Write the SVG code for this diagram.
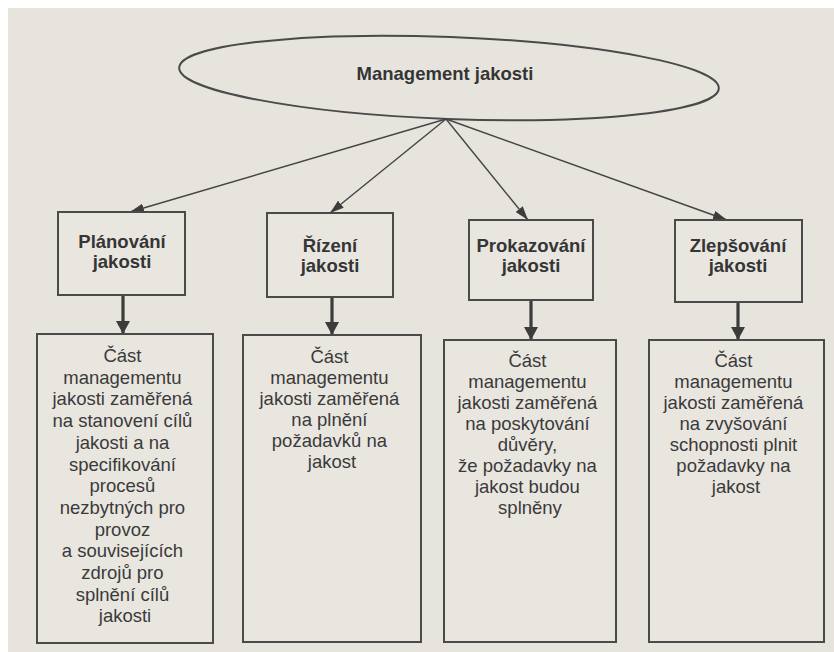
<svg xmlns="http://www.w3.org/2000/svg" width="834" height="652" viewBox="0 0 834 652">
  <defs>
    <marker id="thin" viewBox="0 0 14 9" refX="14" refY="4.5" markerWidth="14" markerHeight="9" markerUnits="userSpaceOnUse" orient="auto">
      <path d="M0,0 L14,4.5 L0,9 z" fill="#3c3c3c"/>
    </marker>
    <marker id="thick" viewBox="0 0 13 14" refX="13" refY="7" markerWidth="13" markerHeight="14" markerUnits="userSpaceOnUse" orient="auto">
      <path d="M0,0 L13,7 L0,14 z" fill="#3c3c3c"/>
    </marker>
    <style>
      .box { fill: #e9e6e0; stroke: #4a4a4a; stroke-width: 2; }
      .title { font-family: "Liberation Sans", Arial, sans-serif; font-weight: bold; font-size: 18.5px; fill: #353535; text-anchor: middle; }
      .desc { font-family: "Liberation Sans", Arial, sans-serif; font-size: 18.5px; fill: #3a3a3a; text-anchor: middle; }
      .link { stroke: #444; stroke-width: 1.4; fill: none; }
      .down { stroke: #3c3c3c; stroke-width: 3.2; fill: none; }
    </style>
  </defs>

  <!-- page -->
  <rect x="0" y="0" width="834" height="652" fill="#ffffff"/>
  <rect x="8" y="8" width="826" height="644" fill="#e7e4de"/>

  <!-- root ellipse -->
  <g id="management">
    <ellipse cx="449" cy="78" rx="270" ry="41" transform="rotate(2.2 449 78)" fill="none" stroke="#4a4a4a" stroke-width="2"/>
    <text class="title" x="445" y="80">Management jakosti</text>
  </g>

  <!-- connectors -->
  <g id="connectors">
    <line class="link" x1="446" y1="119" x2="130" y2="212" marker-end="url(#thin)"/>
    <line class="link" x1="446" y1="119" x2="330" y2="213" marker-end="url(#thin)"/>
    <line class="link" x1="446" y1="119" x2="528" y2="220" marker-end="url(#thin)"/>
    <line class="link" x1="446" y1="119" x2="727" y2="220" marker-end="url(#thin)"/>
    <line class="down" x1="123" y1="295" x2="123" y2="334" marker-end="url(#thick)"/>
    <line class="down" x1="332" y1="297" x2="332" y2="335" marker-end="url(#thick)"/>
    <line class="down" x1="531" y1="300" x2="531" y2="340" marker-end="url(#thick)"/>
    <line class="down" x1="738" y1="302" x2="738" y2="340" marker-end="url(#thick)"/>
  </g>

  <!-- process boxes -->
  <g id="planovani">
    <rect class="box" x="58" y="212" width="127" height="83"/>
    <text class="title" x="122" y="248">Plánování</text>
    <text class="title" x="122" y="268">jakosti</text>
  </g>
  <g id="rizeni">
    <rect class="box" x="267" y="213" width="126" height="84"/>
    <text class="title" x="330" y="252">Řízení</text>
    <text class="title" x="330" y="272">jakosti</text>
  </g>
  <g id="prokazovani">
    <rect class="box" x="469" y="220" width="124" height="80"/>
    <text class="title" x="531" y="252">Prokazování</text>
    <text class="title" x="531" y="272">jakosti</text>
  </g>
  <g id="zlepsovani">
    <rect class="box" x="675" y="220" width="127" height="82"/>
    <text class="title" x="738" y="252">Zlepšování</text>
    <text class="title" x="738" y="272">jakosti</text>
  </g>

  <!-- definitions -->
  <g id="planovani-def">
    <rect class="box" x="37" y="334" width="176" height="309"/>
    <text class="desc" x="125" y="362">
      <tspan x="125">Část</tspan>
      <tspan x="125" dy="21.7">managementu</tspan>
      <tspan x="125" dy="21.7">jakosti zaměřená</tspan>
      <tspan x="125" dy="21.7">na stanovení cílů</tspan>
      <tspan x="125" dy="21.7">jakosti a na</tspan>
      <tspan x="125" dy="21.7">specifikování</tspan>
      <tspan x="125" dy="21.7">procesů</tspan>
      <tspan x="125" dy="21.7">nezbytných pro</tspan>
      <tspan x="125" dy="21.7">provoz</tspan>
      <tspan x="125" dy="21.7">a souvisejících</tspan>
      <tspan x="125" dy="21.7">zdrojů pro</tspan>
      <tspan x="125" dy="21.7">splnění cílů</tspan>
      <tspan x="125" dy="21.7">jakosti</tspan>
    </text>
  </g>
  <g id="rizeni-def">
    <rect class="box" x="243" y="335" width="178" height="307"/>
    <text class="desc" x="332" y="363">
      <tspan x="332">Část</tspan>
      <tspan x="332" dy="21">managementu</tspan>
      <tspan x="332" dy="21">jakosti zaměřená</tspan>
      <tspan x="332" dy="21">na plnění</tspan>
      <tspan x="332" dy="21">požadavků na</tspan>
      <tspan x="332" dy="21">jakost</tspan>
    </text>
  </g>
  <g id="prokazovani-def">
    <rect class="box" x="444" y="340" width="172" height="302"/>
    <text class="desc" x="530" y="367">
      <tspan x="530">Část</tspan>
      <tspan x="530" dy="21">managementu</tspan>
      <tspan x="530" dy="21">jakosti zaměřená</tspan>
      <tspan x="530" dy="21">na poskytování</tspan>
      <tspan x="530" dy="21">důvěry,</tspan>
      <tspan x="530" dy="21">že požadavky na</tspan>
      <tspan x="530" dy="21">jakost budou</tspan>
      <tspan x="530" dy="21">splněny</tspan>
    </text>
  </g>
  <g id="zlepsovani-def">
    <rect class="box" x="649" y="340" width="175" height="302"/>
    <text class="desc" x="736" y="367">
      <tspan x="736">Část</tspan>
      <tspan x="736" dy="21">managementu</tspan>
      <tspan x="736" dy="21">jakosti zaměřená</tspan>
      <tspan x="736" dy="21">na zvyšování</tspan>
      <tspan x="736" dy="21">schopnosti plnit</tspan>
      <tspan x="736" dy="21">požadavky na</tspan>
      <tspan x="736" dy="21">jakost</tspan>
    </text>
  </g>
</svg>
